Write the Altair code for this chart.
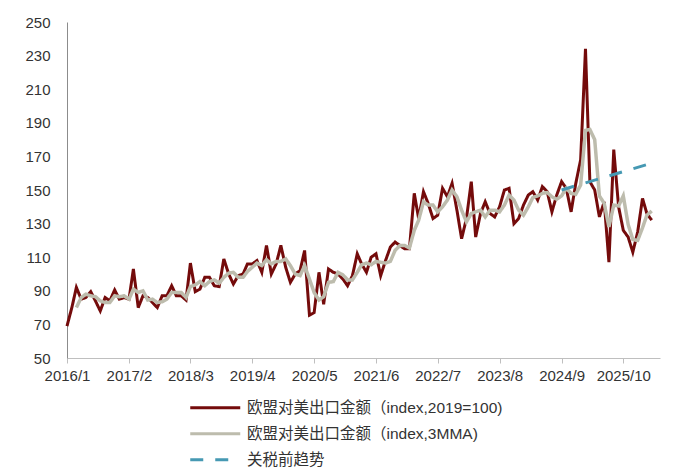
import altair as alt
import pandas as pd

# ---------------- data ----------------
SERIES = [
    "欧盟对美出口金额（index,2019=100)",
    "欧盟对美出口金额（index,3MMA)",
    "关税前趋势",
]
TICK_LABELS = ["2016/1", "2017/2", "2018/3", "2019/4", "2020/5",
               "2021/6", "2022/7", "2023/8", "2024/9", "2025/10"]
Y_TICKS = [50, 70, 90, 110, 130, 150, 170, 190, 210, 230, 250]

START_MONTH = "2016-01-01"          # first monthly observation
EXPORT_INDEX = [                     # 2016/1 ... 2026/4
    69, 80, 92, 85, 86, 89.5, 84, 78, 86, 84, 90.5, 85,
    86, 85, 103, 80, 87, 86, 83, 80, 87, 87, 93, 87,
    87, 84.5, 106.5, 89.5, 91, 98, 98, 93, 92.5, 109, 100, 94,
    99, 100, 106, 106, 108, 101, 117, 100, 106, 117, 104, 95,
    100, 102, 114, 75.5, 77, 101, 82, 103, 101, 100, 97, 93,
    99, 112, 106, 101, 110, 112, 99, 108, 116, 119, 117, 115,
    115, 148, 133, 149, 142, 133, 135, 151, 146, 154, 138, 121,
    133, 155, 122, 136, 143, 136, 134, 140, 150, 151, 130, 133,
    141, 147, 149, 144, 152, 149, 137, 147, 155, 151, 137, 154,
    168, 234, 155, 150, 134, 143, 107, 174, 140, 126, 122, 113,
    125, 145, 136, 132,
]
MMA_START = "2016-03-01"            # 3MMA line starts with the third month
EXPORT_3MMA = [                      # 2016/3 ... 2026/4
    80, 86, 88, 87, 86.5, 84, 83, 83, 87, 86.5,
    87, 85, 91, 89, 90, 84.5, 85, 83, 83.5, 85, 89, 89,
    89, 86, 92.5, 93.5, 95.5, 93, 95.5, 96.5, 94.5, 98, 100.5, 101,
    98, 98, 101.5, 104, 106.5, 105, 108.5, 106, 107.5, 107.5, 109, 105,
    100, 99, 105, 97, 89, 84.5, 86.5, 95, 95.5, 101, 99.5, 96.5,
    96.5, 101, 105.5, 106.5, 105.5, 107.5, 107, 106.5, 107.5, 114, 117, 117,
    115.5, 126, 132, 143, 141, 141, 137, 140, 144, 150, 146, 138,
    131, 136, 137, 138, 134, 138, 138, 137, 141, 147, 144, 138,
    135, 140, 145.5, 146.5, 148, 148.5, 146, 144.5, 146.5, 151, 148, 147.5,
    153, 185.5, 186, 180, 146.5, 142, 128, 141, 140.5, 146.5, 129.5, 120.5,
    120, 127.5, 135, 137.5,
]
TREND_MONTHS = ["2024-09-01", "2026-04-01"]
TREND_VALUES = [150, 166]

# ---------------- tables ----------------
red_df = pd.DataFrame({
    "date": pd.date_range(START_MONTH, periods=len(EXPORT_INDEX), freq="MS"),
    "value": EXPORT_INDEX,
    "series": SERIES[0],
})
gray_df = pd.DataFrame({
    "date": pd.date_range(MMA_START, periods=len(EXPORT_3MMA), freq="MS"),
    "value": EXPORT_3MMA,
    "series": SERIES[1],
})
trend_df = pd.DataFrame({
    "date": pd.to_datetime(TREND_MONTHS),
    "value": TREND_VALUES,
    "series": SERIES[2],
})
for d in (red_df, gray_df, trend_df):
    d["date"] = d["date"].dt.strftime("%Y-%m-%dT00:00:00")

tick_dates = []
for lab in TICK_LABELS:
    y, m = lab.split("/")
    tick_dates.append(alt.DateTime(year=int(y), month=int(m), date=1))

FONT = "Liberation Sans, Noto Sans CJK SC"
TEXT = "#333333"
COLORS = ["#740B0B", "#BDBCAD", "#4699B3"]
DASHES = [[1, 0], [1, 0], [13, 12]]

legend = alt.Legend(
    title=None, orient="none", legendX=123, legendY=378, direction="vertical",
    symbolType="M-5,0H5", symbolSize=100, symbolStrokeWidth=3,
    symbolOffset=17.5, labelOffset=24, labelFont=FONT, labelFontSize=15.5,
    labelColor=TEXT, rowPadding=9, padding=0, labelLimit=500,
)

x_enc = alt.X(
    "date:T",
    scale=alt.Scale(domain=[alt.DateTime(year=2016, month=1, date=1),
                            alt.DateTime(year=2026, month=5, date=24)], nice=False),
    axis=alt.Axis(values=tick_dates, format="%Y/%-m", title=None, grid=False,
                  labelFont=FONT, labelFontSize=15, labelColor=TEXT, labelAngle=0,
                  labelPadding=5, labelOverlap=False, labelFlush=False,
                  domainColor="#BFBFBF", tickColor="#BFBFBF", tickSize=5),
)
y_enc = alt.Y(
    "value:Q",
    scale=alt.Scale(domain=[50, 250], nice=False, zero=False),
    axis=alt.Axis(values=Y_TICKS, title=None, grid=False, ticks=False,
                  labelFont=FONT, labelFontSize=15, labelColor=TEXT,
                  labelPadding=17, domainColor="#8C8C8C"),
)
color_enc = alt.Color("series:N", scale=alt.Scale(domain=SERIES, range=COLORS),
                      legend=legend)
dash_enc = alt.StrokeDash("series:N", scale=alt.Scale(domain=SERIES, range=DASHES),
                          legend=legend)


def layer(df, width):
    return alt.Chart(df).mark_line(strokeWidth=width).encode(
        x=x_enc, y=y_enc, color=color_enc, strokeDash=dash_enc
    )


chart = alt.layer(
    layer(red_df, 3),
    layer(gray_df, 3.5),
    layer(trend_df, 3),
).properties(
    width=593, height=336,
    padding={"left": 59, "top": 14, "right": 10, "bottom": 116},
    autosize="none",
    background="white",
).configure_view(strokeWidth=0)

chart.save("out.html", embed_options={"renderer": "svg", "actions": False})
